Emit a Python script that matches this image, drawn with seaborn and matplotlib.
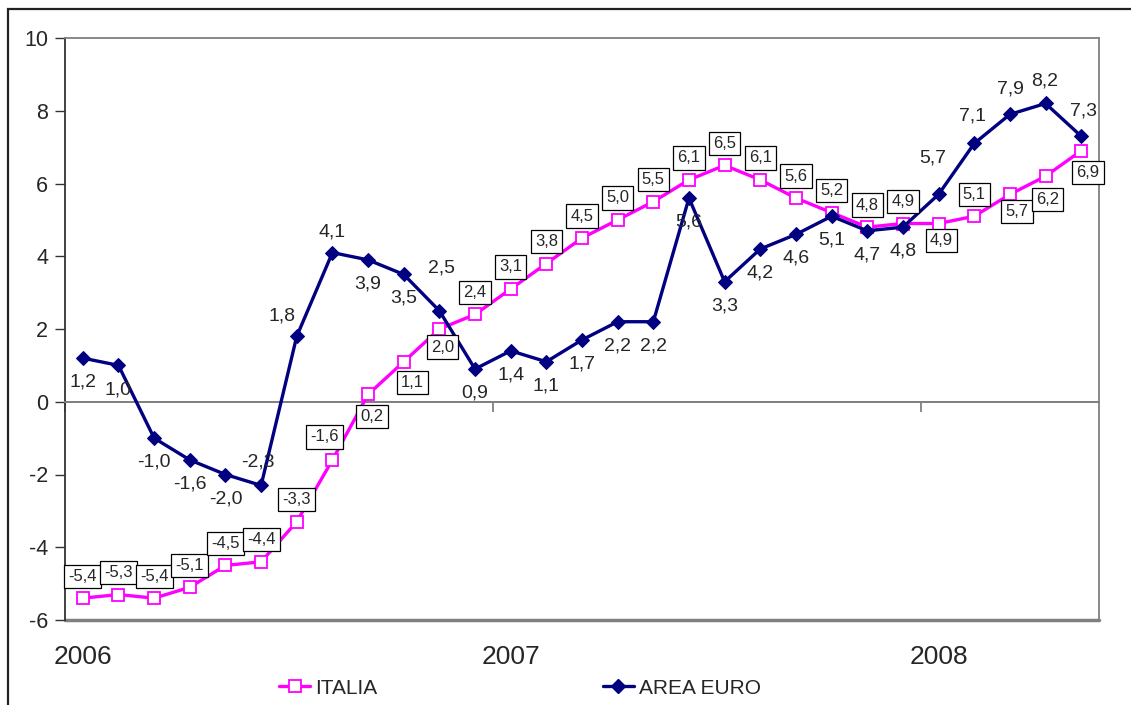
import numpy as np
import pandas as pd
import matplotlib
matplotlib.use("Agg")
import matplotlib.pyplot as plt
from matplotlib.patches import Rectangle
from matplotlib.lines import Line2D
import seaborn as sns

# monthly values, Jan 2006 - May 2008
italia = [-5.4, -5.3, -5.4, -5.1, -4.5, -4.4, -3.3, -1.6, 0.2, 1.1, 2.0, 2.4,
          3.1, 3.8, 4.5, 5.0, 5.5, 6.1, 6.5, 6.1, 5.6, 5.2, 4.8, 4.9,
          4.9, 5.1, 5.7, 6.2, 6.9]
area_euro = [1.2, 1.0, -1.0, -1.6, -2.0, -2.3, 1.8, 4.1, 3.9, 3.5, 2.5, 0.9,
             1.4, 1.1, 1.7, 2.2, 2.2, 5.6, 3.3, 4.2, 4.6, 5.1, 4.7, 4.8,
             5.7, 7.1, 7.9, 8.2, 7.3]
years = ["2006", "2007", "2008"]
series_names = ["ITALIA", "AREA EURO"]

# label placement (pixel offsets) for the data labels
it_below = {8: (4, 22), 9: (9, 21), 10: (3, 18), 24: (3, 17), 26: (7, 17), 27: (2, 23), 28: (7, 22)}
it_above = {7: (-8, -23)}
eu_above = {5: (-3, -23), 6: (-15, -20), 7: (0, -21), 10: (2, -43), 24: (-6, -36),
            25: (-2, -27), 26: (1, -25), 27: (-1, -22), 28: (2, -25)}
eu_below = {1: (0, 25)}

MAGENTA = "#FF00FF"
NAVY = "#000080"
GRAY = "#808080"

n = len(italia)
df = pd.DataFrame({"idx": np.arange(n), "ITALIA": italia, "AREA EURO": area_euro})

sns.set_style("white")
plt.rcParams["font.family"] = ["Liberation Sans", "DejaVu Sans"]
plt.rcParams["axes.unicode_minus"] = False

fig = plt.figure(figsize=(11.31, 7.05), dpi=100)
ax = fig.add_axes([65 / 1131, 1 - 620 / 705, (1099 - 65) / 1131, (620 - 38) / 705])

ax.axhline(0, color=GRAY, lw=1.3, zorder=1)

sns.lineplot(data=df, x="idx", y="ITALIA", ax=ax, color=MAGENTA, lw=2.4,
             marker="s", markersize=8.5, markerfacecolor="white",
             markeredgecolor=MAGENTA, markeredgewidth=1.3, zorder=3)
sns.lineplot(data=df, x="idx", y="AREA EURO", ax=ax, color=NAVY, lw=2.4,
             marker="D", markersize=7.5, markerfacecolor=NAVY,
             markeredgecolor=NAVY, zorder=4)

ax.set_xlim(-0.5, n - 0.5)
ax.set_ylim(-6, 10)
ax.set_yticks(np.arange(-6, 11, 2))
ax.set_xticks([-0.5, 11.5, 23.5])
ax.set_xticklabels([])
ax.set_xlabel("")
ax.set_ylabel("")
ax.tick_params(axis="y", which="both", direction="out", length=7, width=1,
               color="#333333", labelsize=15.5, pad=5, left=True)
ax.tick_params(axis="x", direction="out", length=7, width=1.3, color=GRAY, bottom=True)

# x axis crossing at zero, gray frame round the plot area
ax.spines["bottom"].set_position(("data", 0))
ax.spines["bottom"].set_color(GRAY)
ax.spines["bottom"].set_linewidth(1.3)
for side in ["top", "right"]:
    ax.spines[side].set_color(GRAY)
    ax.spines[side].set_linewidth(1.3)
ax.spines["left"].set_color("#333333")
ax.spines["left"].set_linewidth(1.3)
ax.axhline(-6, color=GRAY, lw=2.5, clip_on=False, zorder=0)

for i, yr in enumerate(years):
    ax.text(i * 12, -0.0636, yr, transform=ax.get_xaxis_transform(),
            ha="center", va="center", fontsize=19)

fmt = lambda v: f"{v:.1f}".replace(".", ",")

for i, v in enumerate(italia):
    off = it_below.get(i, it_above.get(i, (0, -22)))
    ax.annotate(fmt(v), (i, v), xytext=(off[0], -off[1]), textcoords="offset pixels",
                ha="center", va="center", fontsize=12, zorder=5,
                bbox=dict(boxstyle="square,pad=0.25", fc="white", ec="black", lw=0.9))

for i, v in enumerate(area_euro):
    off = eu_above.get(i, eu_below.get(i, (0, 24)))
    ax.annotate(fmt(v), (i, v), xytext=(off[0], -off[1]), textcoords="offset pixels",
                ha="center", va="center", fontsize=14, zorder=6)

handles = [
    Line2D([], [], color=MAGENTA, lw=2.4, marker="s", markersize=8.5,
           markerfacecolor="white", markeredgecolor=MAGENTA, markeredgewidth=1.3),
    Line2D([], [], color=NAVY, lw=2.4, marker="D", markersize=7.5,
           markerfacecolor=NAVY, markeredgecolor=NAVY),
]
fig.legend(handles, series_names, loc="center", bbox_to_anchor=(520 / 1131, 0.024),
           ncol=2, frameon=False, fontsize=15, handlelength=1.5,
           handletextpad=0.25, columnspacing=10.8)

# outer chart border
fig.patches.append(Rectangle((8 / 1131, -0.1), 1.2, 1 - 9 / 705 + 0.1,
                             transform=fig.transFigure, fill=False,
                             ec="#222222", lw=1.6, zorder=10))

fig.savefig("out.png", dpi=100)
